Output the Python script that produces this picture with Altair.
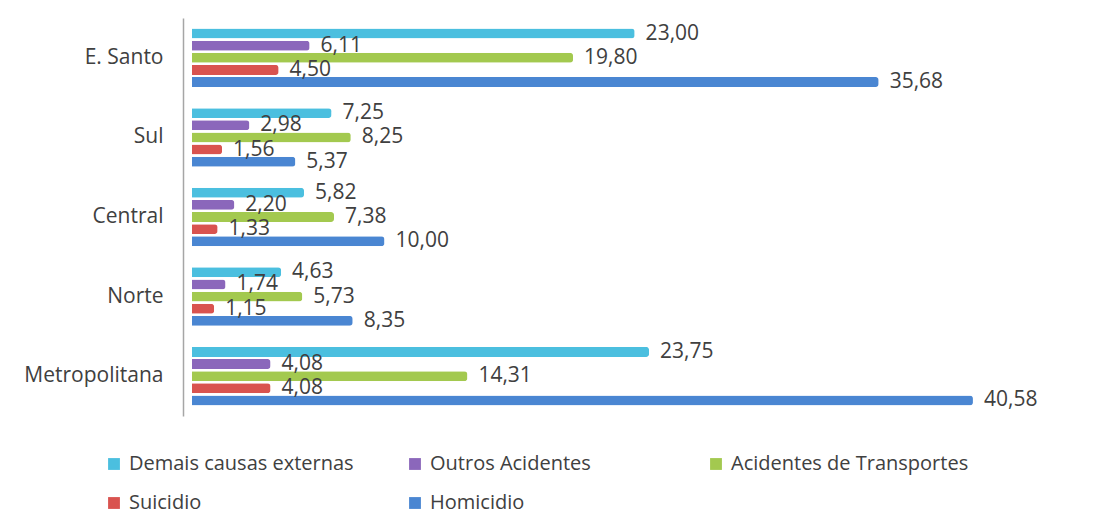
import altair as alt
import pandas as pd

regions = ["E. Santo", "Sul", "Central", "Norte", "Metropolitana"]
series = ["Demais causas externas", "Outros Acidentes", "Acidentes de Transportes", "Suicidio", "Homicidio"]
colors = ["#4bbfdf", "#8b67bb", "#a3c94f", "#d9534f", "#4a86d2"]

demais = [23.00, 7.25, 5.82, 4.63, 23.75]
outros = [6.11, 2.98, 2.20, 1.74, 4.08]
acidentes = [19.80, 8.25, 7.38, 5.73, 14.31]
suicidio = [4.50, 1.56, 1.33, 1.15, 4.08]
homicidio = [35.68, 5.37, 10.00, 8.35, 40.58]

rows = []
for s, vals in zip(series, [demais, outros, acidentes, suicidio, homicidio]):
    for r, v in zip(regions, vals):
        rows.append({"regiao": r, "serie": s, "valor": v})
df = pd.DataFrame(rows)

FONT = "Open Sans"

y_enc = alt.Y("regiao:N", sort=regions, title=None,
              scale=alt.Scale(paddingInner=0.25, paddingOuter=0.125),
              axis=alt.Axis(domainColor="#a6a6a6", domainWidth=1.5, offset=9,
                            ticks=False, labelPadding=20, labelFont=FONT,
                            labelFontSize=21, labelColor="#404040", grid=False))
x_enc = alt.X("valor:Q", scale=alt.Scale(domain=[0, 45], nice=False), axis=None)
yoff = alt.YOffset("serie:N", sort=series, scale=alt.Scale(paddingInner=0.18, paddingOuter=0.05))

base = alt.Chart(df).encode(y=y_enc, x=x_enc, yOffset=yoff)

bars = base.mark_bar(cornerRadiusEnd=3).encode(
    color=alt.Color("serie:N", sort=series,
                    scale=alt.Scale(domain=series, range=colors),
                    legend=alt.Legend(title=None, orient="none", legendX=-88, legendY=436,
                                      columns=3, gridAlign="all", direction="horizontal",
                                      columnPadding=38, rowPadding=19,
                                      symbolType="square", symbolSize=140, symbolStrokeWidth=0,
                                      labelFont=FONT, labelFontSize=20, labelColor="#404040",
                                      labelLimit=400, symbolOffset=0, labelOffset=5))
)

labels = base.transform_calculate(
    lbl="replace(format(datum.valor, '.2f'), '.', ',')"
).mark_text(align="left", baseline="middle", dx=11, font=FONT, fontSize=21, color="#404040").encode(
    text="lbl:N"
)

chart = alt.layer(bars, labels).properties(
    width=866, height=398,
    autosize=alt.AutoSizeParams(type="none"),
    padding={"left": 184, "top": 10, "right": 36, "bottom": 100},
    background="white",
).configure_view(stroke=None)

chart.save("out.html", embed_options={"renderer": "svg", "actions": False})
